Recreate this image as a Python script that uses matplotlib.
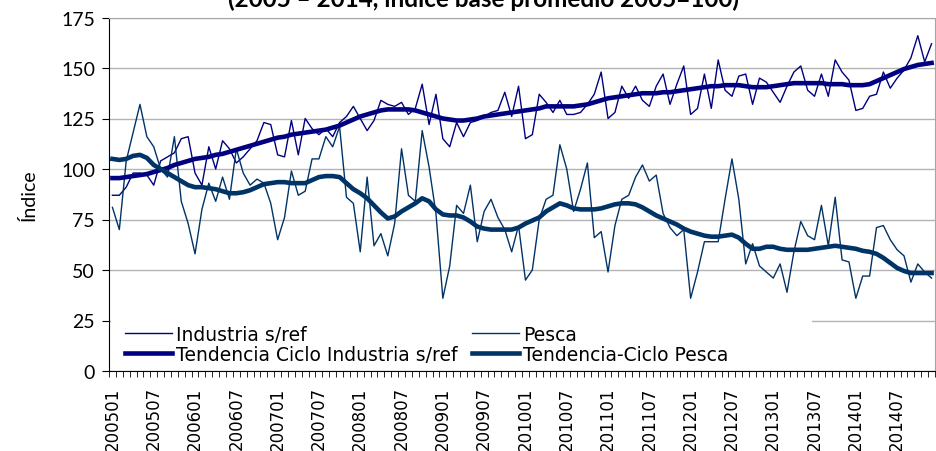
import numpy as np
import matplotlib.pyplot as plt
from matplotlib.patches import Rectangle

etiquetas = ['200501', '200507', '200601', '200607', '200701', '200707', '200801',
             '200807', '200901', '200907', '201001', '201007', '201101', '201107',
             '201201', '201207', '201301', '201307', '201401', '201407']

industria = [87, 87, 91, 98, 98, 97, 92, 104, 106, 108, 115, 116,
             98, 92, 111, 100, 114, 110, 103, 106, 110, 114, 123, 122,
             107, 106, 124, 107, 125, 120, 117, 120, 116, 123, 126, 131,
             125, 119, 124, 134, 132, 131, 133, 127, 130, 142, 122, 137,
             115, 111, 123, 116, 123, 124, 126, 128, 129, 138, 126, 141,
             115, 117, 137, 133, 128, 134, 127, 127, 128, 132, 137, 148,
             125, 128, 141, 135, 141, 134, 131, 141, 147, 132, 142, 151,
             127, 130, 147, 130, 154, 139, 136, 146, 147, 132, 145, 143,
             138, 133, 141, 148, 151, 139, 136, 147, 136, 154, 148, 144,
             129, 130, 136, 137, 148, 140, 145, 149, 155, 166, 153, 162]

pesca = [81, 70, 104, 118, 132, 116, 111, 100, 96, 116, 84, 73,
         58, 80, 93, 84, 96, 85, 110, 98, 92, 95, 93, 83,
         65, 76, 99, 87, 89, 105, 105, 116, 111, 121, 86, 83,
         59, 96, 62, 68, 57, 73, 110, 87, 84, 119, 101, 78,
         36, 52, 82, 78, 92, 64, 79, 85, 76, 70, 59, 72,
         45, 50, 75, 85, 87, 112, 100, 79, 90, 103, 66, 69,
         49, 72, 85, 87, 96, 102, 94, 97, 78, 71, 67, 70,
         36, 49, 64, 64, 64, 85, 105, 85, 53, 63, 52, 49,
         46, 53, 39, 59, 74, 67, 65, 82, 62, 86, 55, 54,
         36, 47, 47, 71, 72, 65, 60, 57, 44, 53, 49, 46]

tc_industria = [95.5, 95.5, 96, 96.5, 97, 97.5, 98.5, 99.5, 100.5, 102, 103, 104,
                105, 105.5, 106, 107, 107.5, 108.5, 109.5, 110.5, 111.5, 112.5, 113.5, 114.5,
                115.5, 116, 117, 117.5, 118, 118.5, 119, 119.5, 120.5, 121.5, 123, 124.5,
                126, 127, 128, 129, 129.5, 129.5, 129.5, 129.5, 129, 128, 127, 126,
                125, 124.5, 124, 124, 124.5, 125, 126, 126.5, 127, 127.5, 128, 128.5,
                129, 129.5, 130, 131, 131, 131, 131, 131, 131.5, 132, 133, 134,
                135, 135.5, 136, 136.5, 137, 137.5, 137.5, 137.5, 138, 138, 138.5, 139,
                139.5, 140, 140.5, 141, 141, 141.5, 141.5, 141.5, 141, 140.5, 140.5, 140.5,
                141, 141.5, 142, 142.5, 142.5, 142.5, 142.5, 142.5, 142, 142, 142, 141.5,
                141.5, 141.5, 142, 143.5, 145, 146.5, 148, 149.5, 150.5, 151.5, 152, 152.5]

tc_pesca = [105, 104.5, 105, 106.5, 107, 105.5, 102, 100, 98, 96, 94, 92,
            91, 91, 90.5, 90, 89, 88, 88, 88.5, 89.5, 91, 92.5, 93,
            93.5, 93.5, 93, 93, 93, 94.5, 96, 96.5, 96.5, 96, 93, 90,
            88, 85.5, 82, 78.5, 75.5, 76.5, 79, 81, 83, 85.5, 84, 80,
            77.5, 77, 77, 76, 74, 71.5, 70.5, 70, 70, 70, 70, 71,
            73, 74.5, 76, 79, 81, 83, 82, 80.5, 80, 80, 80, 80.5,
            81.5, 82.5, 83, 83, 82.5, 81, 79, 77, 75.5, 74, 72.5, 70.5,
            69, 68, 67, 66.5, 66.5, 67, 67.5, 66, 63, 60.5, 60.5, 61.5,
            61.5, 60.5, 60, 60, 60, 60, 60.5, 61, 61.5, 62, 61.5, 61,
            60.5, 59.5, 59, 58, 56, 53.5, 51, 49.5, 48.5, 48.5, 48.5, 48.5]

c_ind = '#000080'
c_pes = '#003366'

x = np.arange(len(industria))

fig = plt.figure(figsize=(9.37, 4.52), dpi=100)
ax = fig.add_axes([109 / 937, 1 - 372 / 452, (935 - 109) / 937, (372 - 18.5) / 452])

ax.plot(x, industria, color=c_ind, lw=1.0, label='Industria s/ref')
ax.plot(x, pesca, color=c_pes, lw=1.0, label='Pesca')
ax.plot(x, tc_industria, color=c_ind, lw=3.3, label='Tendencia Ciclo Industria s/ref')
ax.plot(x, tc_pesca, color=c_pes, lw=3.3, label='Tendencia-Ciclo Pesca')

ax.set_xlim(-0.5, len(x) - 0.5)
ax.set_ylim(0, 175)
ax.set_yticks(range(0, 176, 25))
ax.yaxis.grid(True, color='#b3b3b3', lw=1)
ax.set_axisbelow(True)
ax.tick_params(axis='y', labelsize=14, length=5, pad=5, color='black')
for t in ax.get_yticklabels():
    t.set_family('Lato')

ax.set_xticks(np.arange(0, len(x), 6))
ax.set_xticklabels(etiquetas, rotation=90, fontsize=12)
ax.set_xticks(np.arange(-0.5, len(x), 1), minor=True)
ax.tick_params(axis='x', which='major', length=0, pad=11)
ax.tick_params(axis='x', which='minor', length=4, color='black')

for s in ['top', 'right']:
    ax.spines[s].set_color('#a6a6a6')
ax.spines['left'].set_color('black')
ax.spines['bottom'].set_color('black')

ax.set_ylabel('Índice', fontsize=14, family='Lato', labelpad=17)

# fondo blanco de la leyenda, tapa la linea de 25
ax.add_patch(Rectangle((0.002, 0.003), 0.849, 0.15, transform=ax.transAxes,
                       facecolor='white', edgecolor='none', zorder=1))

h, l = ax.get_legend_handles_labels()
orden = [0, 2, 1, 3]
leg = ax.legend([h[i] for i in orden], [l[i] for i in orden], ncol=2,
                loc='lower left', bbox_to_anchor=(0.0194, 0.02),
                frameon=False, fontsize=13.5,
                handlelength=2.5, handletextpad=0.2, borderpad=0,
                labelspacing=0.05, columnspacing=0.8, borderaxespad=0)

fig.text(484 / 937, 1 - 7 / 452, '(2005 – 2014, índice base promedio 2005=100)',
         ha='center', va='baseline', fontsize=17.5, fontweight='bold', family='Lato')

fig.savefig('out.png', dpi=100)
